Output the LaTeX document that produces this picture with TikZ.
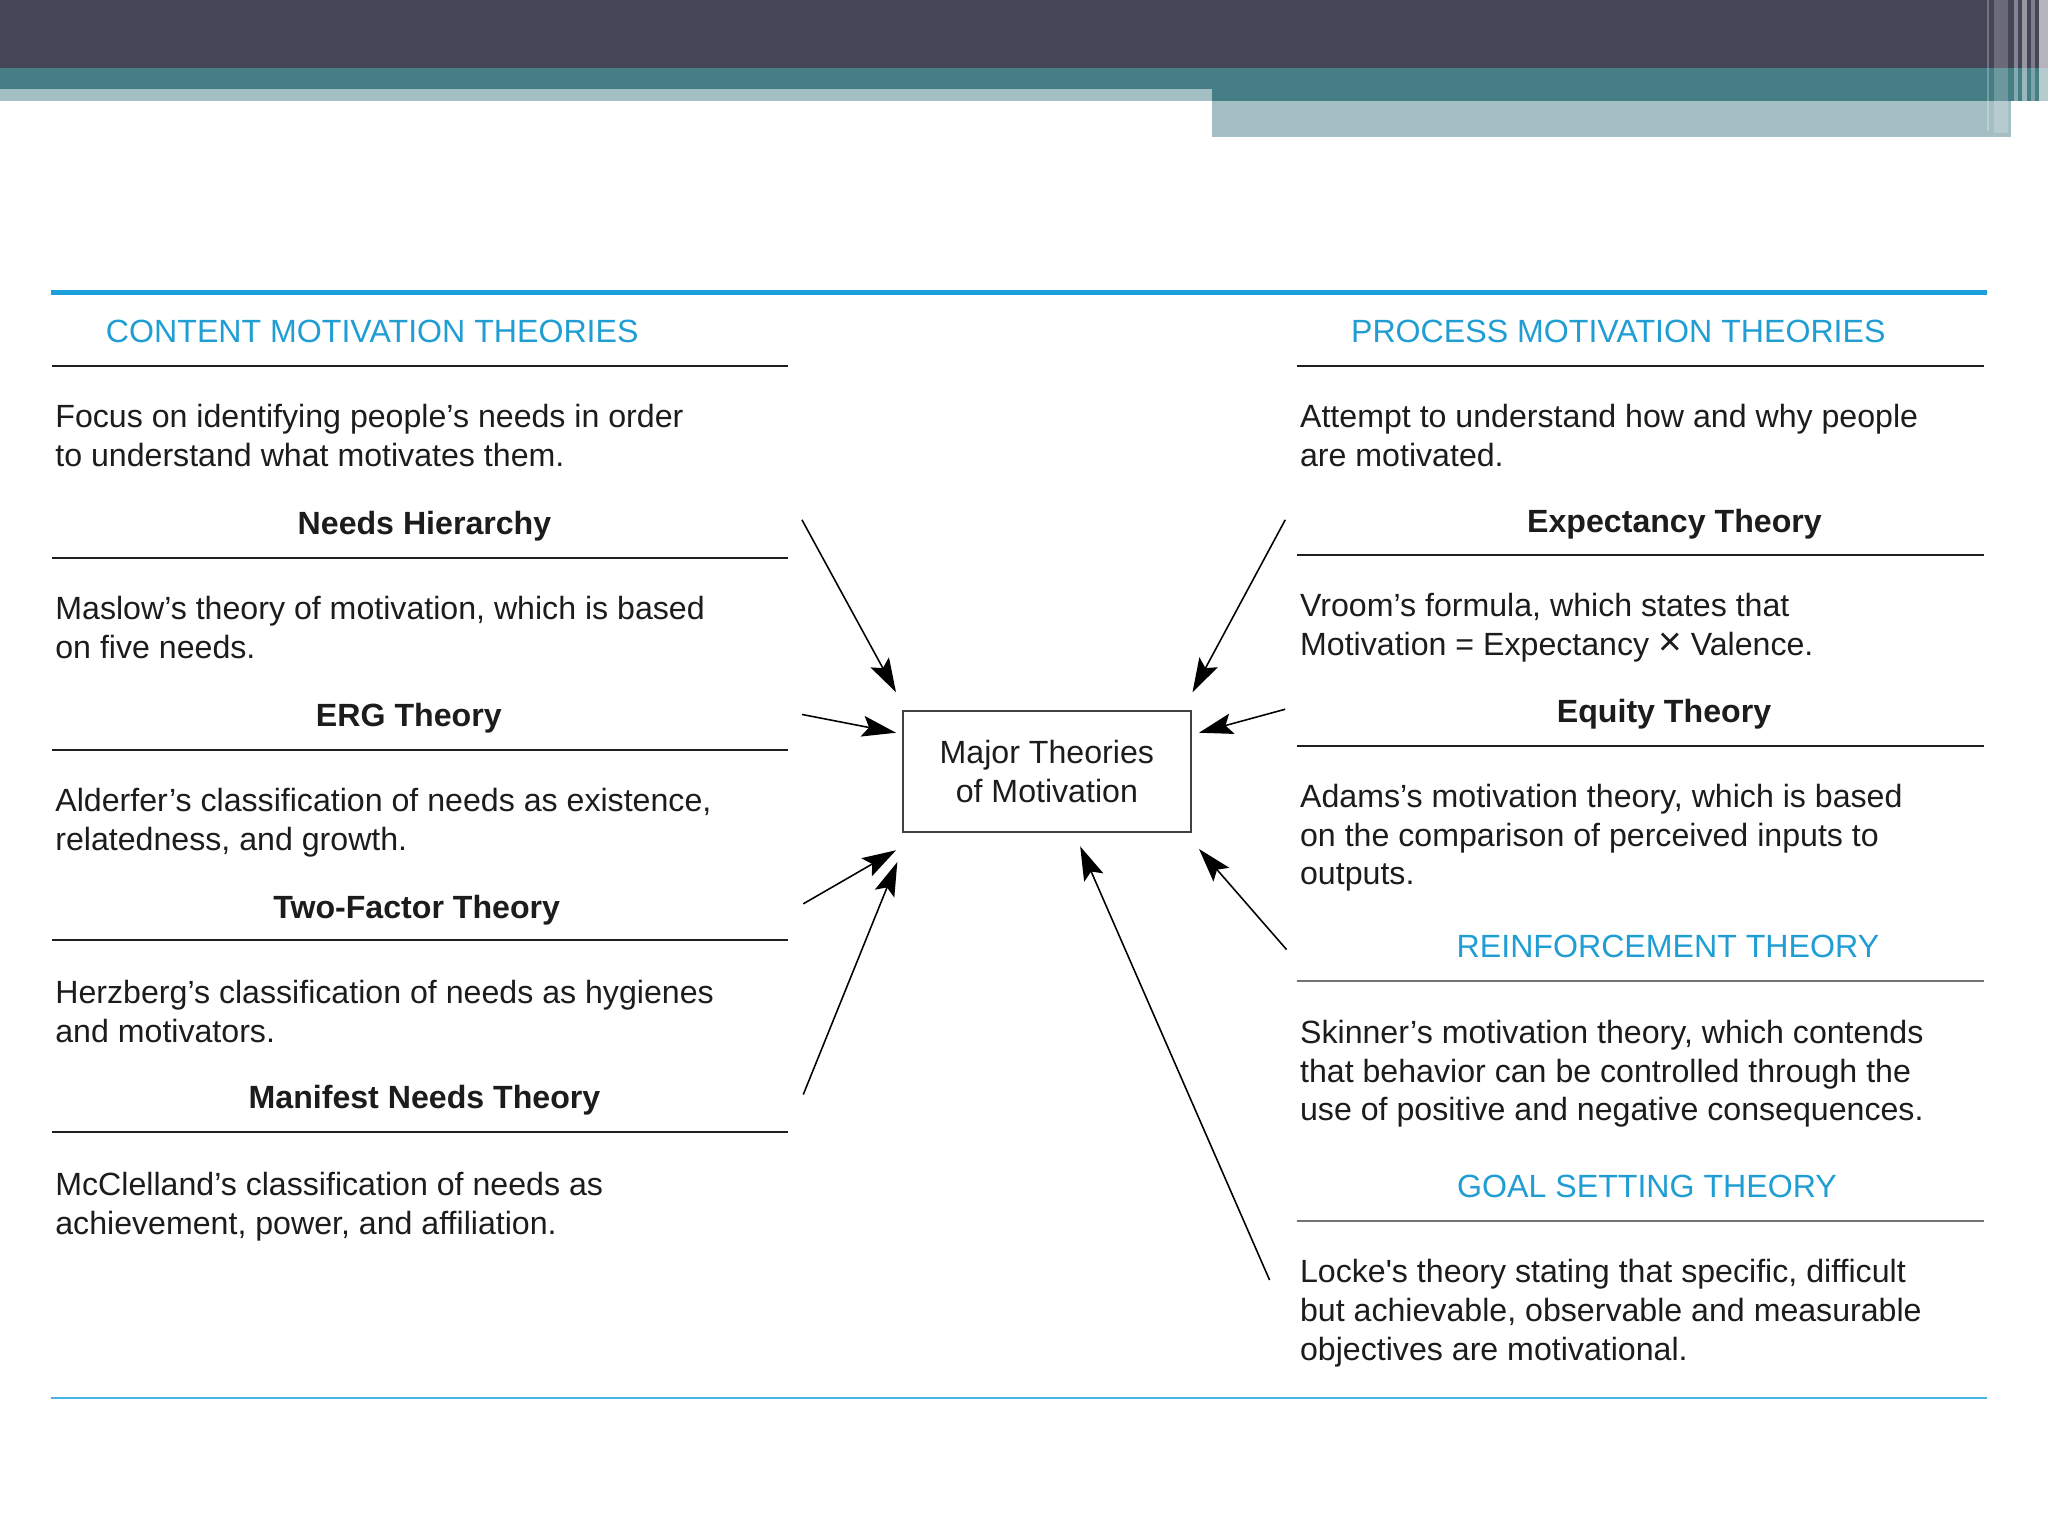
\documentclass[tikz,border=0pt]{standalone}
\usepackage{fontspec}
\setmainfont{Liberation Sans}[Ligatures=TeXOff]
\usetikzlibrary{arrows.meta}
\definecolor{hdark}{RGB}{69,69,88}
\definecolor{hteal}{RGB}{70,126,133}
\definecolor{hlight}{RGB}{164,191,195}
\definecolor{cyanhead}{RGB}{32,158,212}
\definecolor{bluerule}{RGB}{27,160,220}
\definecolor{txt}{RGB}{28,28,28}
\newcommand{\bigtimes}{{\fontsize{15.5}{15}\selectfont ×}}
\begin{document}
\begin{tikzpicture}[x=0.5pt,y=-0.5pt,
  body/.style={anchor=base west, inner sep=0pt, font=\fontsize{12.3}{15}\selectfont, text=txt},
  head/.style={anchor=base, inner sep=0pt, font=\fontsize{12.3}{15}\selectfont\bfseries, text=txt},
  cat/.style={anchor=base, inner sep=0pt, font=\fontsize{12.3}{15}\selectfont, text=cyanhead},
  rulek/.style={line width=0.8pt, draw=black!88},
  ruleg/.style={line width=0.9pt, draw=black!55},
  arr/.style={-{Stealth[length=13pt,width=8pt,inset=2.5pt]}, line width=0.6pt, draw=black},
  mainbox/.style={draw=black!75, line width=0.75pt, minimum width=110pt, minimum height=46.5pt,
    inner sep=0pt, align=center, font=\fontsize{12.3}{15}\selectfont, text=txt}]
\useasboundingbox (0,0) rectangle (1568,1176);
\fill[white] (0,0) rectangle (1568,1176);
% header bands
\fill[hdark] (0,0) rectangle (1568,52);
\fill[hteal] (0,52) rectangle (1568,68);
\fill[hteal] (928,68) rectangle (1568,77);
\fill[hlight] (0,68) rectangle (928,77);
\fill[hlight] (928,77) rectangle (1540,105);
% right-edge stripes
\fill[white,opacity=0.25] (1521,0) rectangle (1523,100);
\fill[white,opacity=0.2] (1527,0) rectangle (1537,102);
\fill[white,opacity=0.35] (1542,0) rectangle (1545,105);
\fill[white,opacity=0.45] (1548,0) rectangle (1552,105);
\fill[white,opacity=0.3] (1555,0) rectangle (1558,105);
\fill[white,opacity=0.6] (1561,0) rectangle (1568,105);
% rules
\draw[bluerule, line width=2pt] (39,224) -- (1521,224);
\draw[bluerule!80, line width=0.8pt] (39,1070) -- (1521,1070);
\draw[rulek] (40,280) -- (603,280);
\draw[rulek] (40,427) -- (603,427);
\draw[rulek] (40,574) -- (603,574);
\draw[rulek] (40,720) -- (603,720);
\draw[rulek] (40,867) -- (603,867);
\draw[rulek] (993,280) -- (1519,280);
\draw[rulek] (993,425) -- (1519,425);
\draw[rulek] (993,571) -- (1519,571);
\draw[ruleg] (993,751) -- (1519,751);
\draw[ruleg] (993,935) -- (1519,935);
% left column
\node[cat] (cmt) at (285,262) {CONTENT MOTIVATION THEORIES};
\node[body] (l1a) at (42,327) {Focus on identifying people’s needs in order};
\node[body] (l1b) at (42,357) {to understand what motivates them.};
\node[head] (nh) at (325,409) {Needs Hierarchy};
\node[body] (l2a) at (42,474) {Maslow’s theory of motivation, which is based};
\node[body] (l2b) at (42,504) {on five needs.};
\node[head] (erg) at (313,556) {ERG Theory};
\node[body] (l3a) at (42,621) {Alderfer’s classification of needs as existence,};
\node[body] (l3b) at (42,651) {relatedness, and growth.};
\node[head] (tf) at (319,703) {Two-Factor Theory};
\node[body] (l4a) at (42,768) {Herzberg’s classification of needs as hygienes};
\node[body] (l4b) at (42,798) {and motivators.};
\node[head] (mn) at (325,849) {Manifest Needs Theory};
\node[body] (l5a) at (42,915) {McClelland’s classification of needs as};
\node[body] (l5b) at (42,945) {achievement, power, and affiliation.};
% right column
\node[cat] (pmt) at (1239,262) {PROCESS MOTIVATION THEORIES};
\node[body] (r1a) at (995,327) {Attempt to understand how and why people};
\node[body] (r1b) at (995,357) {are motivated.};
\node[head] (et) at (1282,408) {Expectancy Theory};
\node[body] (r2a) at (995,472) {Vroom’s formula, which states that};
\node[body] (r2b) at (995,502) {Motivation = Expectancy \bigtimes\ Valence.};
\node[head] (eq) at (1274,553) {Equity Theory};
\node[body] (r3a) at (995,618) {Adams’s motivation theory, which is based};
\node[body] (r3b) at (995,648) {on the comparison of perceived inputs to};
\node[body] (r3c) at (995,677) {outputs.};
\node[cat] (rt) at (1277,733) {REINFORCEMENT THEORY};
\node[body] (r4a) at (995,799) {Skinner’s motivation theory, which contends};
\node[body] (r4b) at (995,829) {that behavior can be controlled through the};
\node[body] (r4c) at (995,858) {use of positive and negative consequences.};
\node[cat] (gs) at (1261,917) {GOAL SETTING THEORY};
\node[body] (r5a) at (995,982) {Locke's theory stating that specific, difficult};
\node[body] (r5b) at (995,1012) {but achievable, observable and measurable};
\node[body] (r5c) at (995,1042) {objectives are motivational.};
% centre box
\node[mainbox] (box) at (801.5,590.5) {Major Theories\\of Motivation};
% arrow ends
\coordinate (s1) at (614,398); \coordinate (t1) at (686,530);
\coordinate (s2) at (614,547); \coordinate (t2) at (686,561);
\coordinate (s3) at (615,692); \coordinate (t3) at (686,651);
\coordinate (s4) at (615,838); \coordinate (t4) at (687,660);
\coordinate (s5) at (984,398); \coordinate (t5) at (913,530);
\coordinate (s6) at (984,543); \coordinate (t6) at (918,561);
\coordinate (s7) at (985,727); \coordinate (t7) at (918,650);
\coordinate (s8) at (972,980); \coordinate (t8) at (827,648);
\foreach \i in {1,...,8} {\draw[arr] (s\i) -- (t\i);}
\end{tikzpicture}
\end{document}
